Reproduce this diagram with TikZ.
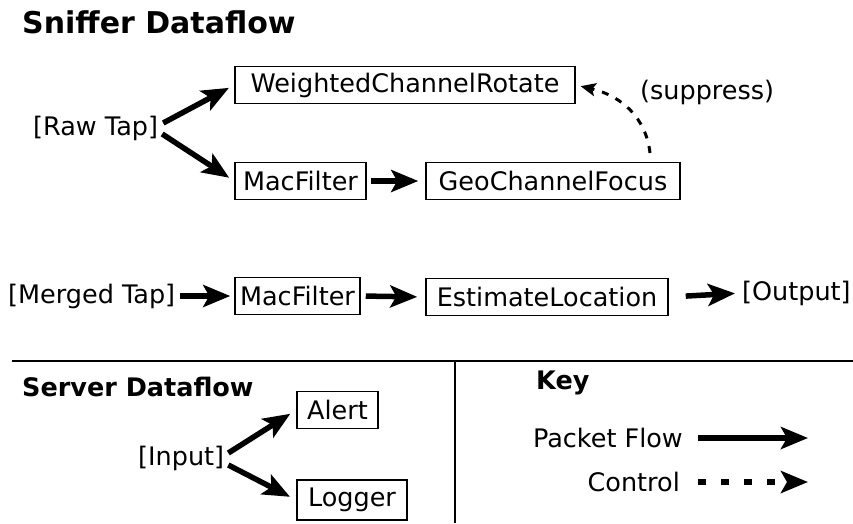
\documentclass[tikz,border=0pt]{standalone}
\usepackage{fontspec}
\setmainfont{DejaVu Sans}
\usetikzlibrary{arrows.meta}
\begin{document}
\begin{tikzpicture}[x=1pt,y=-1pt,
  every node/.style={font=\fontsize{25.5}{30}\selectfont},
  lbl/.style={inner sep=0pt},
  title/.style={inner sep=0pt,font=\fontsize{25.5}{30}\selectfont\bfseries},
  bigtitle/.style={title,font=\fontsize{30}{36}\selectfont\bfseries},
  stage/.style={draw,line width=1.5pt,minimum height=37pt,inner sep=0pt},
  head/.style={-{Stealth[length=27pt,width=22pt,inset=6pt]}},
  flow/.style={line width=5.5pt,head},
  ctrl/.style={line width=3pt,dash pattern=on 7pt off 8pt,-{Stealth[length=15pt,width=13pt,inset=3pt]}},
  keyctrl/.style={line width=5.5pt,dash pattern=on 8pt off 15pt,head},
  rule/.style={line width=1.5pt}]
\path[use as bounding box] (0,0) rectangle (853,523);

% sniffer section
\node[bigtitle,anchor=west] (snifftitle) at (22,22) {Sniffer Dataflow};
\node[lbl,anchor=west] (raw) at (33,128) {[Raw Tap]};
\node[stage,minimum width=340pt] (wcr) at (405,85) {WeightedChannelRotate};
\node[stage,minimum width=131pt] (mac1) at (300.5,181) {MacFilter};
\node[stage,minimum width=254pt] (geo) at (553,181) {GeoChannelFocus};
\node[lbl,anchor=west] (supp) at (640,92) {(suppress)};
\coordinate (suppstart) at (650,153);

\draw[flow,shorten >=6pt] ([yshift=5pt]raw.east) ++(5,0) -- (wcr.west);
\draw[flow,shorten >=6pt] ([yshift=-6pt]raw.east) ++(4,0) -- (mac1.west);
\draw[flow,shorten <=4pt,shorten >=7pt] (mac1.east) -- (geo.west);
\draw[ctrl,shorten >=5pt] (suppstart) .. controls (646,118) and (622,96) .. (wcr.east);

% merged pipeline
\node[lbl,anchor=west] (merged) at (8,296) {[Merged Tap]};
\node[stage,minimum width=125pt] (mac2) at (297.5,296) {MacFilter};
\node[stage,minimum width=242pt] (est) at (547,297) {EstimateLocation};
\node[lbl,anchor=west] (out) at (742,293) {[Output]};

\draw[flow,shorten <=5pt,shorten >=4pt] (merged.east) -- (mac2.west);
\draw[flow,shorten <=5pt,shorten >=8pt] (mac2.east) -- (est.west);
\draw[flow,shorten <=17pt,shorten >=7pt] (est.east) -- (out.west);

% dividers
\coordinate (hl) at (12,361);
\coordinate (hr) at (853,361);
\coordinate (vt) at (455,361);
\coordinate (vb) at (455,523);
\draw[rule] (hl) -- (hr);
\draw[rule] (vt) -- (vb);

% server section
\node[title,anchor=west] (servtitle) at (22,387) {Server Dataflow};
\node[lbl,anchor=west] (input) at (138,458) {[Input]};
\node[stage,minimum width=81pt] (alert) at (337.5,410) {Alert};
\node[stage,minimum width=110pt,minimum height=40pt] (logger) at (352,500) {Logger};

\draw[flow,shorten >=7pt] ([yshift=5pt]input.east) ++(4,0) -- (alert.west);
\draw[flow,shorten >=7pt] ([yshift=-7pt]input.east) ++(4,0) -- (logger.west);

% key
\node[title,anchor=west] (keytitle) at (536,383) {Key};
\node[lbl,anchor=east] (pflabel) at (683,438) {Packet Flow};
\node[lbl,anchor=east] (ctlabel) at (680,482) {Control};
\coordinate (pfa) at (698,438);
\coordinate (pfb) at (808,438);
\coordinate (cta) at (698,482);
\coordinate (ctb) at (808,482);
\draw[flow] (pfa) -- (pfb);
\draw[keyctrl] (cta) -- (ctb);
\end{tikzpicture}
\end{document}
